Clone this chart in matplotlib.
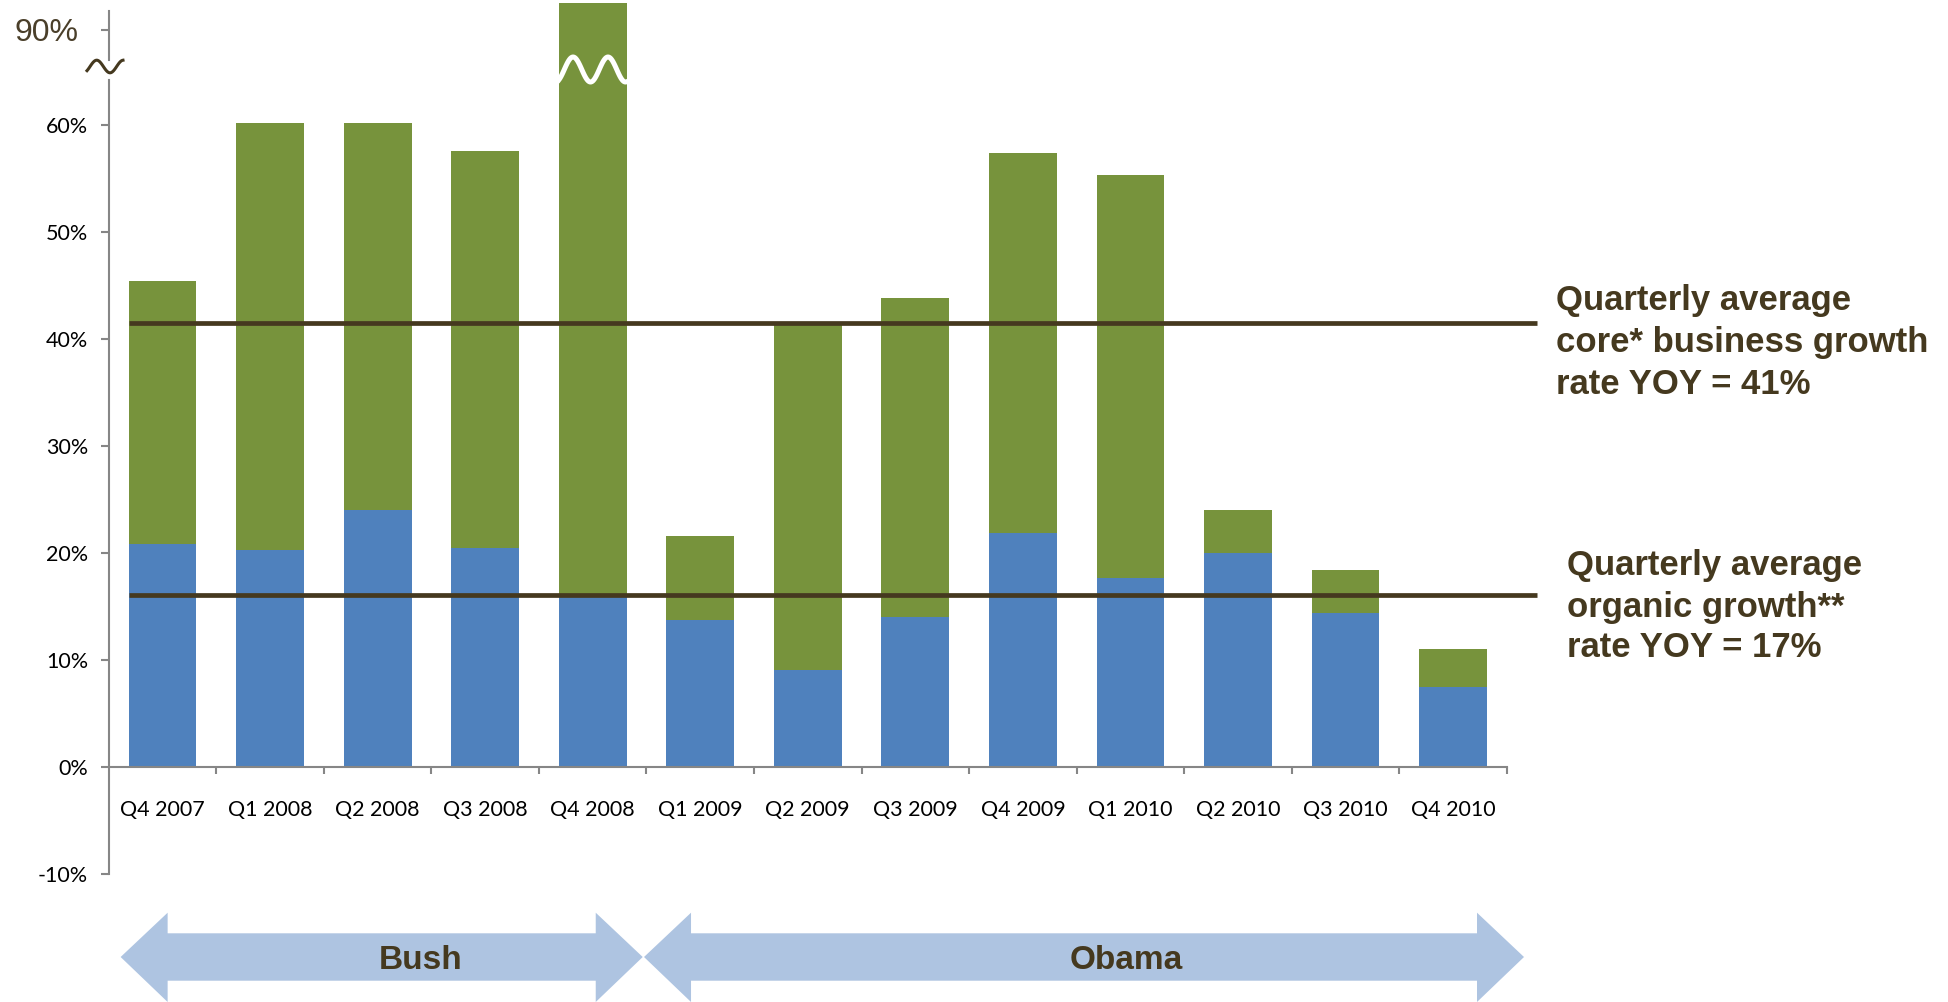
import numpy as np
import matplotlib
matplotlib.use("Agg")
import matplotlib.pyplot as plt
import matplotlib.transforms as mtrans
from matplotlib.patches import Polygon

# ---- data ----
quarters = ["Q4 2007", "Q1 2008", "Q2 2008", "Q3 2008", "Q4 2008", "Q1 2009", "Q2 2009",
            "Q3 2009", "Q4 2009", "Q1 2010", "Q2 2010", "Q3 2010", "Q4 2010"]
core_growth = [45.4, 60.2, 60.2, 57.6, 92.5, 21.6, 41.4, 43.8, 57.4, 55.3, 24.0, 18.4, 11.0]
organic_growth = [20.8, 20.3, 24.0, 20.5, 16.1, 13.7, 9.1, 14.0, 21.9, 17.7, 20.0, 14.4, 7.5]
core_avg = 41.5
organic_avg = 16.1
ytick_vals = [-10, 0, 10, 20, 30, 40, 50, 60, 90]
core_text = ["Quarterly average", "core* business growth", "rate YOY = 41%"]
organic_text = ["Quarterly average", "organic growth**", "rate YOY = 17%"]
presidents = ["Bush", "Obama"]
pres_span = [(0, 4), (5, 12)]

GREEN = "#77933c"
BLUE = "#4f81bd"
BROWN = "#45391f"
GREY = "#868686"
ARROW = "#aec4e1"

W, H = 1948, 1002


# broken y axis: squeeze 63..87 into a small gap
B1, B2, SHIFT = 63.0, 87.0, 21.12
S2 = B2 - SHIFT


def fwd(v):
    v = np.asarray(v, dtype=float)
    return np.where(v <= B1, v, np.where(v >= B2, v - SHIFT, B1 + (v - B1) * (S2 - B1) / (B2 - B1)))


def inv(s):
    s = np.asarray(s, dtype=float)
    return np.where(s <= B1, s, np.where(s >= S2, s + SHIFT, B1 + (s - B1) * (B2 - B1) / (S2 - B1)))


fig = plt.figure(figsize=(W / 100, H / 100), dpi=100)
ax_left, ax_w = 108.8 / W, 1398 / W
ax_bot = (H - 874) / H
ax = fig.add_axes([ax_left, ax_bot, ax_w, 1 - ax_bot])
ax.set_yscale("function", functions=(fwd, inv))

x = np.arange(len(quarters))
bw = 0.63
ax.bar(x, core_growth, bw, color=GREEN, zorder=2)
ax.bar(x, organic_growth, bw, color=BLUE, zorder=2)

ax.set_xlim(-0.5, 12.5)
ax.set_ylim(-10, 92.8)

# average lines, running out past the plot
x_end = (1537 - 108.8) / 107.54 - 0.5
for v in (core_avg, organic_avg):
    ax.plot([-bw / 2, x_end], [v, v], color=BROWN, lw=3.4, solid_capstyle="butt",
            clip_on=False, zorder=4)

# spines
for s in ("top", "right", "left"):
    ax.spines[s].set_visible(False)
ax.spines["bottom"].set_position(("data", 0))
ax.spines["bottom"].set_color(GREY)
ax.spines["bottom"].set_linewidth(1.5)

# hand-drawn left axis with a break
ta = ax.transAxes
ax.plot([0, 0], [0, (874 - 80) / 874], color=GREY, lw=1.5, transform=ta, clip_on=False)
ax.plot([0, 0], [(874 - 60) / 874, (874 - 11) / 874], color=GREY, lw=1.5, transform=ta, clip_on=False)
sx = np.linspace((87 - 108.8) / 1398, (123 - 108.8) / 1398, 80)
per = 26.6 / 1398
sy = (874 - 66.5) / 874 + (6.3 / 874) * np.cos(2 * np.pi * (sx - (96.7 - 108.8) / 1398) / per)
ax.plot(sx, sy, color=BROWN, lw=2.2, transform=ta, clip_on=False, zorder=5)

# white wave cutting the tall bar
bt = mtrans.blended_transform_factory(ax.transData, ax.transAxes)
wx = np.linspace(4 - bw / 2, 4 + bw / 2, 100)
wper = 0.325
wy = (874 - 69.5) / 874 + (12.5 / 874) * np.cos(2 * np.pi * (wx - 3.817) / wper)
ax.plot(wx, wy, color="white", lw=3.6, transform=bt, zorder=3)

# ticks
ax.set_xticks(np.arange(0.5, 12.6, 1))
ax.set_xticklabels([])
ax.set_xticks(x, minor=True)
ax.set_xticklabels(quarters, minor=True, fontfamily="Lato", fontsize=15.5)
ax.tick_params(axis="x", which="major", direction="out", length=4.8, width=1.5, color=GREY)
ax.tick_params(axis="x", which="minor", length=0, pad=24)

ax.set_yticks(ytick_vals)
ax.set_yticks([], minor=True)
ax.set_yticklabels(["%d%%" % v if v != 90 else "" for v in ytick_vals],
                   fontfamily="Lato", fontsize=15.5)
ax.tick_params(axis="y", which="major", direction="out", length=5.8, width=1.5, color=GREY, pad=9)
# the 90% label above the break is bigger and brown
ax.annotate("90%", xy=(0, ytick_vals[-1]), xycoords=("axes fraction", "data"),
            xytext=(-22, -8.2), textcoords="offset points", ha="right", va="baseline",
            fontsize=23, family="Liberation Sans", color="#4a3f2a", annotation_clip=False)

# president arrows under the axis
hl = 47 / 107.54
ys_t, ys_b = -(933.3 - 874) / 874, -(980.7 - 874) / 874
yh_t, yh_b = -(912.7 - 874) / 874, -(1002 - 874) / 874
yc = (ys_t + ys_b) / 2
for name, (a, b), tx in zip(presidents, pres_span, (421, 1126)):
    x0 = a - 0.5 + 0.11
    x1 = b + 0.5 - 0.035
    if name == "Obama":
        x0 = a - 0.5 - 0.023
        x1 = b + 0.5 + 0.16
    pts = [(x0, yc), (x0 + hl, yh_t), (x0 + hl, ys_t), (x1 - hl, ys_t), (x1 - hl, yh_t),
           (x1, yc), (x1 - hl, yh_b), (x1 - hl, ys_b), (x0 + hl, ys_b), (x0 + hl, yh_b)]
    ax.add_patch(Polygon(pts, closed=True, facecolor=ARROW, edgecolor="none",
                         transform=bt, clip_on=False))
    fig.text(tx / W, 1 - 969 / H, name, ha="center", va="baseline", fontsize=24,
             fontweight="bold", family="Liberation Sans", color=BROWN)

# annotation texts
for txt, py in zip(core_text, (310, 352, 394)):
    fig.text(1556 / W, 1 - py / H, txt, ha="left", va="baseline", fontsize=25,
             fontweight="bold", family="Liberation Sans", color=BROWN)
for txt, py in zip(organic_text, (575, 617, 657)):
    fig.text(1567 / W, 1 - py / H, txt, ha="left", va="baseline", fontsize=25,
             fontweight="bold", family="Liberation Sans", color=BROWN)

fig.savefig("out.png", dpi=100)
